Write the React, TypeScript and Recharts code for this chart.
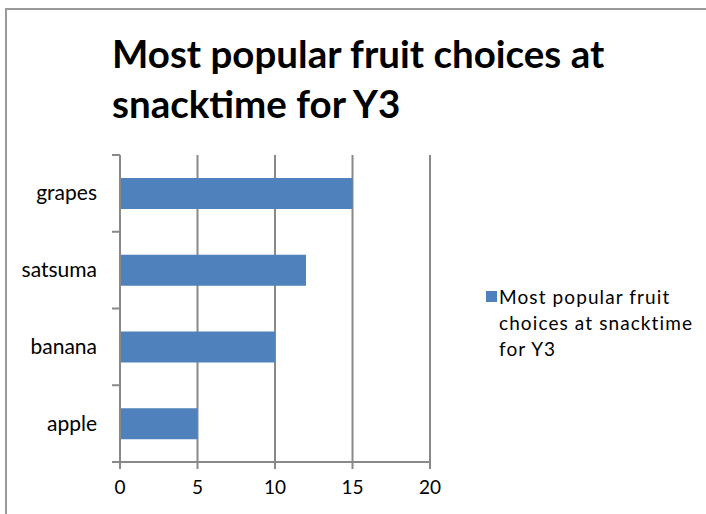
import React from 'react';
import { BarChart, Bar, XAxis, YAxis, CartesianGrid } from 'recharts';

const fruits = ['grapes', 'satsuma', 'banana', 'apple'];
const counts = [15, 12, 10, 5];
const xTicks = [0, 5, 10, 15, 20];
const seriesName = 'Most popular fruit choices at snacktime for Y3';

const data = fruits.map((fruit, i) => ({ fruit, count: counts[i] }));

const FONT = 'Lato, "Open Sans", sans-serif';
const GRID = '#898989';
const BLUE = '#4f81bd';

const TICK_SIZE = 8;
const TICK_MARGIN = 15;

// category labels plus Excel-style ticks on the band boundaries
const FruitTick = (props: any) => {
  const { x, y, payload, index } = props;
  const off = payload.offset || 0;
  const x1 = x + TICK_MARGIN;
  const x2 = x1 + TICK_SIZE;
  return (
    <g>
      <line x1={x1} x2={x2} y1={y - off} y2={y - off} stroke={GRID} strokeWidth={2} />
      {index === fruits.length - 1 && (
        <line x1={x1} x2={x2} y1={y + off} y2={y + off} stroke={GRID} strokeWidth={2} />
      )}
      <text x={x} y={y} dy={7} textAnchor="end" fontSize={21} fill="#000" fontFamily={FONT}>
        {payload.value}
      </text>
    </g>
  );
};

export default function App() {
  return (
    <div style={{ position: 'absolute', left: 0, top: 0, width: 706, height: 514, background: '#fff', overflow: 'hidden' }}>
      <div
        style={{
          position: 'absolute',
          left: 5,
          top: 8,
          width: 760,
          height: 560,
          borderLeft: '2px solid #9a9a9a',
          borderTop: '2px solid #9a9a9a',
        }}
      />
      <div
        style={{
          position: 'absolute',
          left: 112,
          top: 28,
          fontFamily: FONT,
          fontWeight: 700,
          fontSize: 38.5,
          lineHeight: '50px',
          color: '#000',
          whiteSpace: 'nowrap',
        }}
      >
        Most popular fruit choices at
        <br />
        snacktime for Y3
      </div>
      <div style={{ position: 'absolute', left: 0, top: 0 }}>
        <BarChart
          width={706}
          height={514}
          data={data}
          layout="vertical"
          margin={{ top: 155, right: 276, bottom: 0, left: 0 }}
          barCategoryGap="30%"
          style={{ fontFamily: FONT }}
        >
          <CartesianGrid horizontal={false} stroke={GRID} strokeWidth={2} />
          <XAxis
            type="number"
            domain={[0, 20]}
            ticks={xTicks}
            height={52}
            stroke={GRID}
            tickSize={7}
            tickMargin={12}
            tick={{ fill: '#000', fontSize: 19, fontFamily: FONT }}
            axisLine={{ stroke: GRID, strokeWidth: 2 }}
            tickLine={{ stroke: GRID, strokeWidth: 2 }}
          />
          <YAxis
            type="category"
            dataKey="fruit"
            width={120}
            axisLine={{ stroke: GRID, strokeWidth: 2 }}
            tickLine={false}
            tickSize={TICK_SIZE}
            tickMargin={TICK_MARGIN}
            tick={<FruitTick />}
            interval={0}
          />
          <Bar dataKey="count" name={seriesName} fill={BLUE} isAnimationActive={false} />
        </BarChart>
      </div>
      {/* legend */}
      <div style={{ position: 'absolute', left: 486, top: 284, display: 'flex', alignItems: 'flex-start', fontFamily: FONT }}>
        <div style={{ width: 11, height: 11, background: BLUE, marginTop: 7, marginRight: 2, flexShrink: 0 }} />
        <div style={{ fontSize: 19, letterSpacing: '1.1px', lineHeight: '26px', color: '#000', width: 210 }}>
          Most popular fruit
          <br />
          choices at snacktime
          <br />
          for Y3
        </div>
      </div>
    </div>
  );
}
